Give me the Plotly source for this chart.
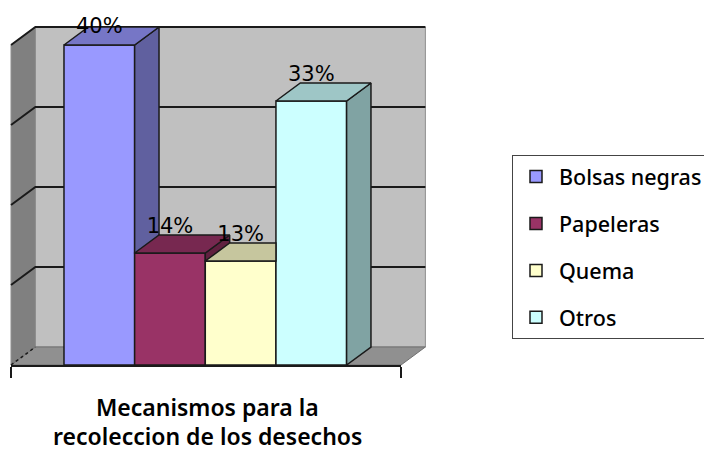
import plotly.graph_objects as go

categories = ["Bolsas negras", "Papeleras", "Quema", "Otros"]
values = [40, 14, 13, 33]
labels = ["40%", "14%", "13%", "33%"]
front_colors = ["#9999FF", "#993366", "#FFFFCC", "#CCFFFF"]
top_colors = ["#7676C6", "#772850", "#C6C69E", "#9EC6C6"]
side_colors = ["#60609F", "#60203F", "#9F9F80", "#80A3A3"]
grid_values = [10, 20, 30, 40]
title_lines = ["Mecanismos para la", "recoleccion de los desechos"]

X_RANGE = [-1.25, 4.27]
Y_RANGE = [0, 44]
PLOT_H = 352
DX, DY = 0.345, 2.25   # depth of the 3D projection, in axis units
HALF = 0.5
LINE = "#1a1a1a"


def fx(x):
    return (x - X_RANGE[0]) / (X_RANGE[1] - X_RANGE[0])


def fy(y):
    return (y - Y_RANGE[0]) / (Y_RANGE[1] - Y_RANGE[0])


def path(points):
    return "M " + " L ".join(f"{fx(x):.5f},{fy(y):.5f}" for x, y in points) + " Z"


def poly(points, color):
    xs = [p[0] for p in points] + [points[0][0]]
    ys = [p[1] for p in points] + [points[0][1]]
    return go.Scatter(x=xs, y=ys, mode="lines", fill="toself", fillcolor=color,
                      line=dict(color=LINE, width=1.5), showlegend=False,
                      hoverinfo="skip", cliponaxis=False)


fig = go.Figure()

for i, cat in enumerate(categories):
    fig.add_trace(go.Bar(
        x=[i], y=[values[i]], width=1, name=cat, legendgroup=cat,
        marker=dict(color=front_colors[i], line=dict(color=LINE, width=1.5)),
    ))

for i, v in enumerate(values):
    x0, x1 = i - HALF, i + HALF
    nxt = values[i + 1] if i + 1 < len(values) else 0
    if nxt < v + DY:
        low = min(nxt, v)
        bottom_right = max(low, DY) if nxt == 0 else low
        fig.add_trace(poly([(x1, v), (x1 + DX, v + DY), (x1 + DX, bottom_right), (x1, low)],
                           side_colors[i]))
    if nxt >= v + DY:
        fig.add_trace(poly([(x0, v), (x1, v), (x1, v + DY), (x0 + DX, v + DY)], top_colors[i]))
    else:
        fig.add_trace(poly([(x0, v), (x1, v), (x1 + DX, v + DY), (x0 + DX, v + DY)], top_colors[i]))

fig.add_trace(go.Scatter(
    x=list(range(len(values))),
    y=[min(v + 3.1, 42.1) for v in values],
    text=labels, mode="text", textposition="middle center",
    textfont=dict(family="DejaVu Sans", size=21, color="#000000"),
    showlegend=False, hoverinfo="skip", cliponaxis=False,
))

xl, xr = X_RANGE
shapes = [
    dict(type="path", path=path([(xl + DX, DY), (xr + DX, DY), (xr + DX, 40 + DY), (xl + DX, 40 + DY)]),
         fillcolor="#C0C0C0", line=dict(color="#8f8f8f", width=1), xref="paper", yref="paper", layer="below"),
    dict(type="path", path=path([(xl, 0), (xl + DX, DY), (xl + DX, 40 + DY), (xl, 40)]),
         fillcolor="#808080", line=dict(color="#8f8f8f", width=1), xref="paper", yref="paper", layer="below"),
    dict(type="path", path=path([(xl, 0), (xr, 0), (xr + DX, DY), (xl + DX, DY)]),
         fillcolor="#909090", line=dict(color="#707070", width=1), xref="paper", yref="paper", layer="below"),
]
for g in grid_values:
    shapes.append(dict(type="path",
                       path=f"M {fx(xl):.5f},{fy(g):.5f} L {fx(xl + DX):.5f},{fy(g + DY):.5f} L {fx(xr + DX):.5f},{fy(g + DY):.5f}",
                       line=dict(color=LINE, width=2), xref="paper", yref="paper", layer="below"))
shapes.append(dict(type="line", x0=fx(xl), y0=fy(0), x1=fx(xl + DX), y1=fy(DY),
                   line=dict(color=LINE, width=1.5, dash="dot"), xref="paper", yref="paper", layer="below"))

annotations = [
    dict(text=title_lines[0], x=0.505, xref="paper", y=-42 / PLOT_H, yref="paper", yanchor="middle",
         showarrow=False, font=dict(family="Noto Sans", size=23, color="#000000", weight=600)),
    dict(text=title_lines[1], x=0.505, xref="paper", y=-71 / PLOT_H, yref="paper", yanchor="middle",
         showarrow=False, font=dict(family="Noto Sans", size=23, color="#000000", weight=600)),
]

fig.update_layout(
    width=704, height=444,
    margin=dict(l=3, r=311, t=5, b=87, autoexpand=False),
    paper_bgcolor="white", plot_bgcolor="rgba(0,0,0,0)",
    barmode="overlay", shapes=shapes, annotations=annotations,
    font=dict(family="Noto Sans", color="#000000"),
    xaxis=dict(range=X_RANGE, showgrid=False, zeroline=False, showline=True, linecolor=LINE, linewidth=1.5,
               tickmode="array", tickvals=X_RANGE, ticktext=["", ""], ticks="outside", ticklen=11,
               tickcolor=LINE, tickwidth=1.5),
    yaxis=dict(range=Y_RANGE, showgrid=False, zeroline=False, showline=False, showticklabels=False, ticks=""),
    legend=dict(x=(512 - 11) / 390, xanchor="left", y=(365 - 155) / PLOT_H, yanchor="top",
                bgcolor="white", bordercolor="#444444", borderwidth=1,
                tracegroupgap=16, itemclick=False, itemdoubleclick=False, itemwidth=36,
                entrywidth=160,
                font=dict(family="Noto Sans", size=21.5, color="#000000", weight=500)),
)

fig.write_html("out.html")
